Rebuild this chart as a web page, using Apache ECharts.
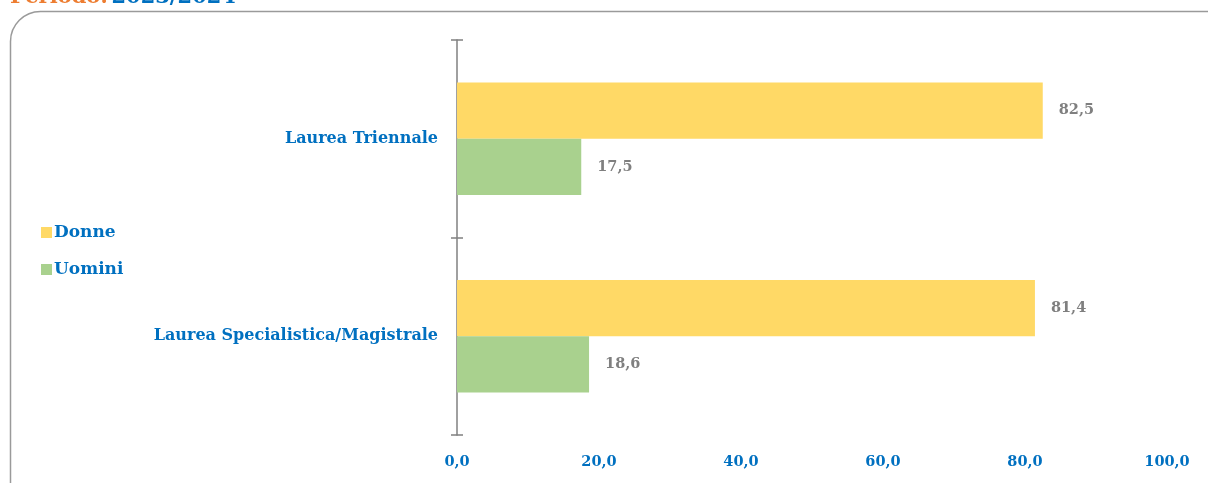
<!DOCTYPE html>
<html>
<head>
<meta charset="utf-8">
<script src="https://cdn.jsdelivr.net/npm/echarts@6/dist/echarts.min.js"></script>
<style>
  html, body { margin: 0; padding: 0; background: #fff; }
  #main { width: 1208px; height: 483px; }
</style>
</head>
<body>
<div id="main"></div>
<script>
  // dati
  var categorie = ['Laurea Triennale', 'Laurea Specialistica/Magistrale'];
  var donne = [82.5, 81.4];
  var uomini = [17.5, 18.6];
  var xTicks = [0, 20, 40, 60, 80, 100];

  var blu = '#0070C0';
  var font = '"DejaVu Serif", "Liberation Serif", serif';

  function virgola(v) {
    return Number(v).toFixed(1).replace('.', ',');
  }

  var myChart = echarts.init(document.getElementById('main'));

  var etichetta = {
    show: true,
    position: 'right',
    distance: 16,
    color: '#7F7F7F',
    fontFamily: font,
    fontWeight: 'bold',
    fontSize: 14.5,
    formatter: function (p) { return virgola(p.value); }
  };

  var option = {
    animation: false,
    textStyle: { fontFamily: font },
    graphic: [
      {
        type: 'rect',
        shape: { x: 10.5, y: 11.5, width: 1240, height: 520, r: 30 },
        style: { fill: 'none', stroke: '#9a9a9a', lineWidth: 1.5 },
        silent: true
      },
      {
        type: 'text',
        left: 10,
        top: -13,
        style: {
          text: '{a|Periodo:} {b|2023/2024}',
          rich: {
            a: { fill: '#ED7D31', fontFamily: font, fontWeight: 'bold', fontSize: 21 },
            b: { fill: blu, fontFamily: font, fontWeight: 'bold', fontSize: 21 }
          }
        }
      }
    ],
    legend: {
      orient: 'vertical',
      left: 36,
      top: 219,
      itemWidth: 11,
      itemHeight: 11,
      itemGap: 20,
      itemStyle: { borderWidth: 0 },
      icon: 'rect',
      textStyle: { color: blu, fontFamily: font, fontWeight: 'bold', fontSize: 17, padding: [0, 0, 0, -3] },
      data: ['Donne', 'Uomini']
    },
    grid: { left: 457, right: 41, top: 40, bottom: 48, containLabel: false },
    xAxis: {
      type: 'value',
      min: 0,
      max: 100,
      interval: 20,
      axisLine: { show: false },
      axisTick: { show: false },
      splitLine: { show: false },
      axisLabel: {
        color: blu,
        fontFamily: font,
        fontWeight: 'bold',
        fontSize: 14.5,
        margin: 20,
        formatter: function (v) { return virgola(v); }
      }
    },
    yAxis: [
      {
        type: 'category',
        inverse: true,
        data: categorie,
        axisLine: { show: true, lineStyle: { color: '#808080', width: 1.5 } },
        axisTick: { show: true, length: 6, lineStyle: { color: '#808080', width: 1.5 } },
        axisLabel: {
          color: blu,
          fontFamily: font,
          fontWeight: 'bold',
          fontSize: 16,
          margin: 19
        }
      },
      {
        type: 'category',
        inverse: true,
        position: 'left',
        data: categorie,
        axisLine: { show: false },
        axisTick: { show: true, inside: true, length: 6, lineStyle: { color: '#808080', width: 1.5 } },
        axisLabel: { show: false }
      }
    ],
    series: [
      {
        name: 'Donne',
        type: 'bar',
        data: donne,
        barGap: '0%',
        barCategoryGap: '43%',
        itemStyle: { color: '#FFD966' },
        label: etichetta
      },
      {
        name: 'Uomini',
        type: 'bar',
        data: uomini,
        barGap: '0%',
        barCategoryGap: '43%',
        itemStyle: { color: '#A9D18E' },
        label: etichetta
      }
    ]
  };

  myChart.setOption(option);
</script>
</body>
</html>
